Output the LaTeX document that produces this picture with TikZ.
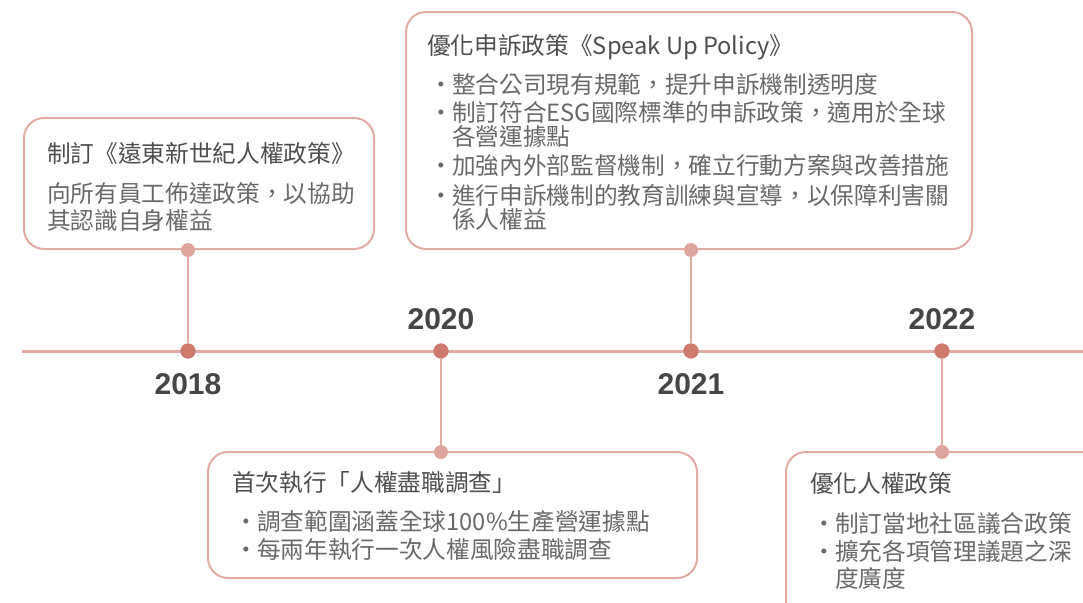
\documentclass[tikz,border=0pt]{standalone}
\usepackage{fontspec}
\setmainfont{Noto Sans CJK TC}
\newfontfamily\yearfont{Liberation Sans}
\definecolor{cardline}{RGB}{226,172,165}
\definecolor{dotdark}{RGB}{206,122,110}
\definecolor{dotlight}{RGB}{222,165,158}
\definecolor{yeargray}{RGB}{70,70,70}
\definecolor{titlegray}{RGB}{78,78,78}
\definecolor{bodygray}{RGB}{105,105,105}
\newcommand{\bul}{\makebox[14.25pt][r]{\makebox[0pt]{·}\hspace{8pt}}}
\newcommand{\wrapin}{\hspace*{14.25pt}}
\tikzset{
  card/.style={draw=cardline, line width=1.5pt, rounded corners=15pt},
  axis/.style={draw=cardline, line width=2.25pt},
  stem/.style={draw=cardline, line width=1.5pt},
  yeardot/.style={circle, fill=dotdark, inner sep=0pt, minimum size=11.5pt},
  tabdot/.style={circle, fill=dotlight, inner sep=0pt, minimum size=10.5pt},
  yearlabel/.style={anchor=base, inner sep=0pt, text=yeargray,
    font=\yearfont\bfseries\fontsize{22.5}{24}\selectfont},
  cardtitle/.style={anchor=base west, inner sep=0pt, text=titlegray,
    font=\fontsize{17.75}{20}\selectfont},
  carditem/.style={anchor=base west, inner sep=0pt, align=left, text=bodygray,
    font=\fontsize{17.75}{18}\selectfont},
}
\begin{document}
\begin{tikzpicture}[x=0.75pt, y=-0.75pt]
    \useasboundingbox (0,0) rectangle (1083,603);
    \clip (0,0) rectangle (1083,603);

    % timeline
    \draw[axis] (22,351) -- (1083,351);

    % cards
    \draw[card] (24,118) rectangle (374,249);
    \draw[card] (406,12) rectangle (972,249);
    \draw[card] (208,452) rectangle (697,578);
    \draw[card] (786,452) rectangle (1110,630);

    % year dots and card tabs
    \node[yeardot] (d18) at (188,351) {};
    \node[yeardot] (d20) at (441,351) {};
    \node[yeardot] (d21) at (691,351) {};
    \node[yeardot] (d22) at (942,351) {};
    \node[tabdot] (t18) at (188,250) {};
    \node[tabdot] (t20) at (441,452) {};
    \node[tabdot] (t21) at (691,250) {};
    \node[tabdot] (t22) at (942,452) {};
    \draw[stem] (d18) -- (t18);
    \draw[stem] (d20) -- (t20);
    \draw[stem] (d21) -- (t21);
    \draw[stem] (d22) -- (t22);

    % years
    \node[yearlabel] (y18) at (188,394) {2018};
    \node[yearlabel] (y20) at (441,329) {2020};
    \node[yearlabel] (y21) at (691,394) {2021};
    \node[yearlabel] (y22) at (942,329) {2022};

    % 2018 (multi-line nodes sit on their last baseline)
    \node[cardtitle] (h18) at (47,162) {制訂《遠東新世紀人權政策》};
    \node[carditem, font=\fontsize{17.75}{20}\selectfont] (b18) at (47,229)
      {向所有員工佈達政策，以協助\\其認識自身權益};

    % 2021
    \node[cardtitle] (h21) at (427,54) {優化申訴政策《Speak Up Policy》};
    \node[carditem] (b21a) at (433,93.5) {\bul 整合公司現有規範，提升申訴機制透明度};
    \node[carditem] (b21b) at (433,145) {\bul 制訂符合ESG國際標準的申訴政策，適用於全球\\\wrapin 各營運據點};
    \node[carditem] (b21c) at (433,174) {\bul 加強內外部監督機制，確立行動方案與改善措施};
    \node[carditem] (b21d) at (433,228) {\bul 進行申訴機制的教育訓練與宣導，以保障利害關\\\wrapin 係人權益};

    % 2020
    \node[cardtitle] (h20) at (232,491) {首次執行「人權盡職調查」};
    \node[carditem] (b20a) at (238,530) {\bul 調查範圍涵蓋全球100\%生產營運據點};
    \node[carditem] (b20b) at (238,558) {\bul 每兩年執行一次人權風險盡職調查};

    % 2022
    \node[cardtitle] (h22) at (810,492) {優化人權政策};
    \node[carditem] (b22a) at (816,532) {\bul 制訂當地社區議合政策};
    \node[carditem, font=\fontsize{17.75}{20.25}\selectfont] (b22b) at (816,587)
      {\bul 擴充各項管理議題之深\\\wrapin 度廣度};
\end{tikzpicture}
\end{document}
